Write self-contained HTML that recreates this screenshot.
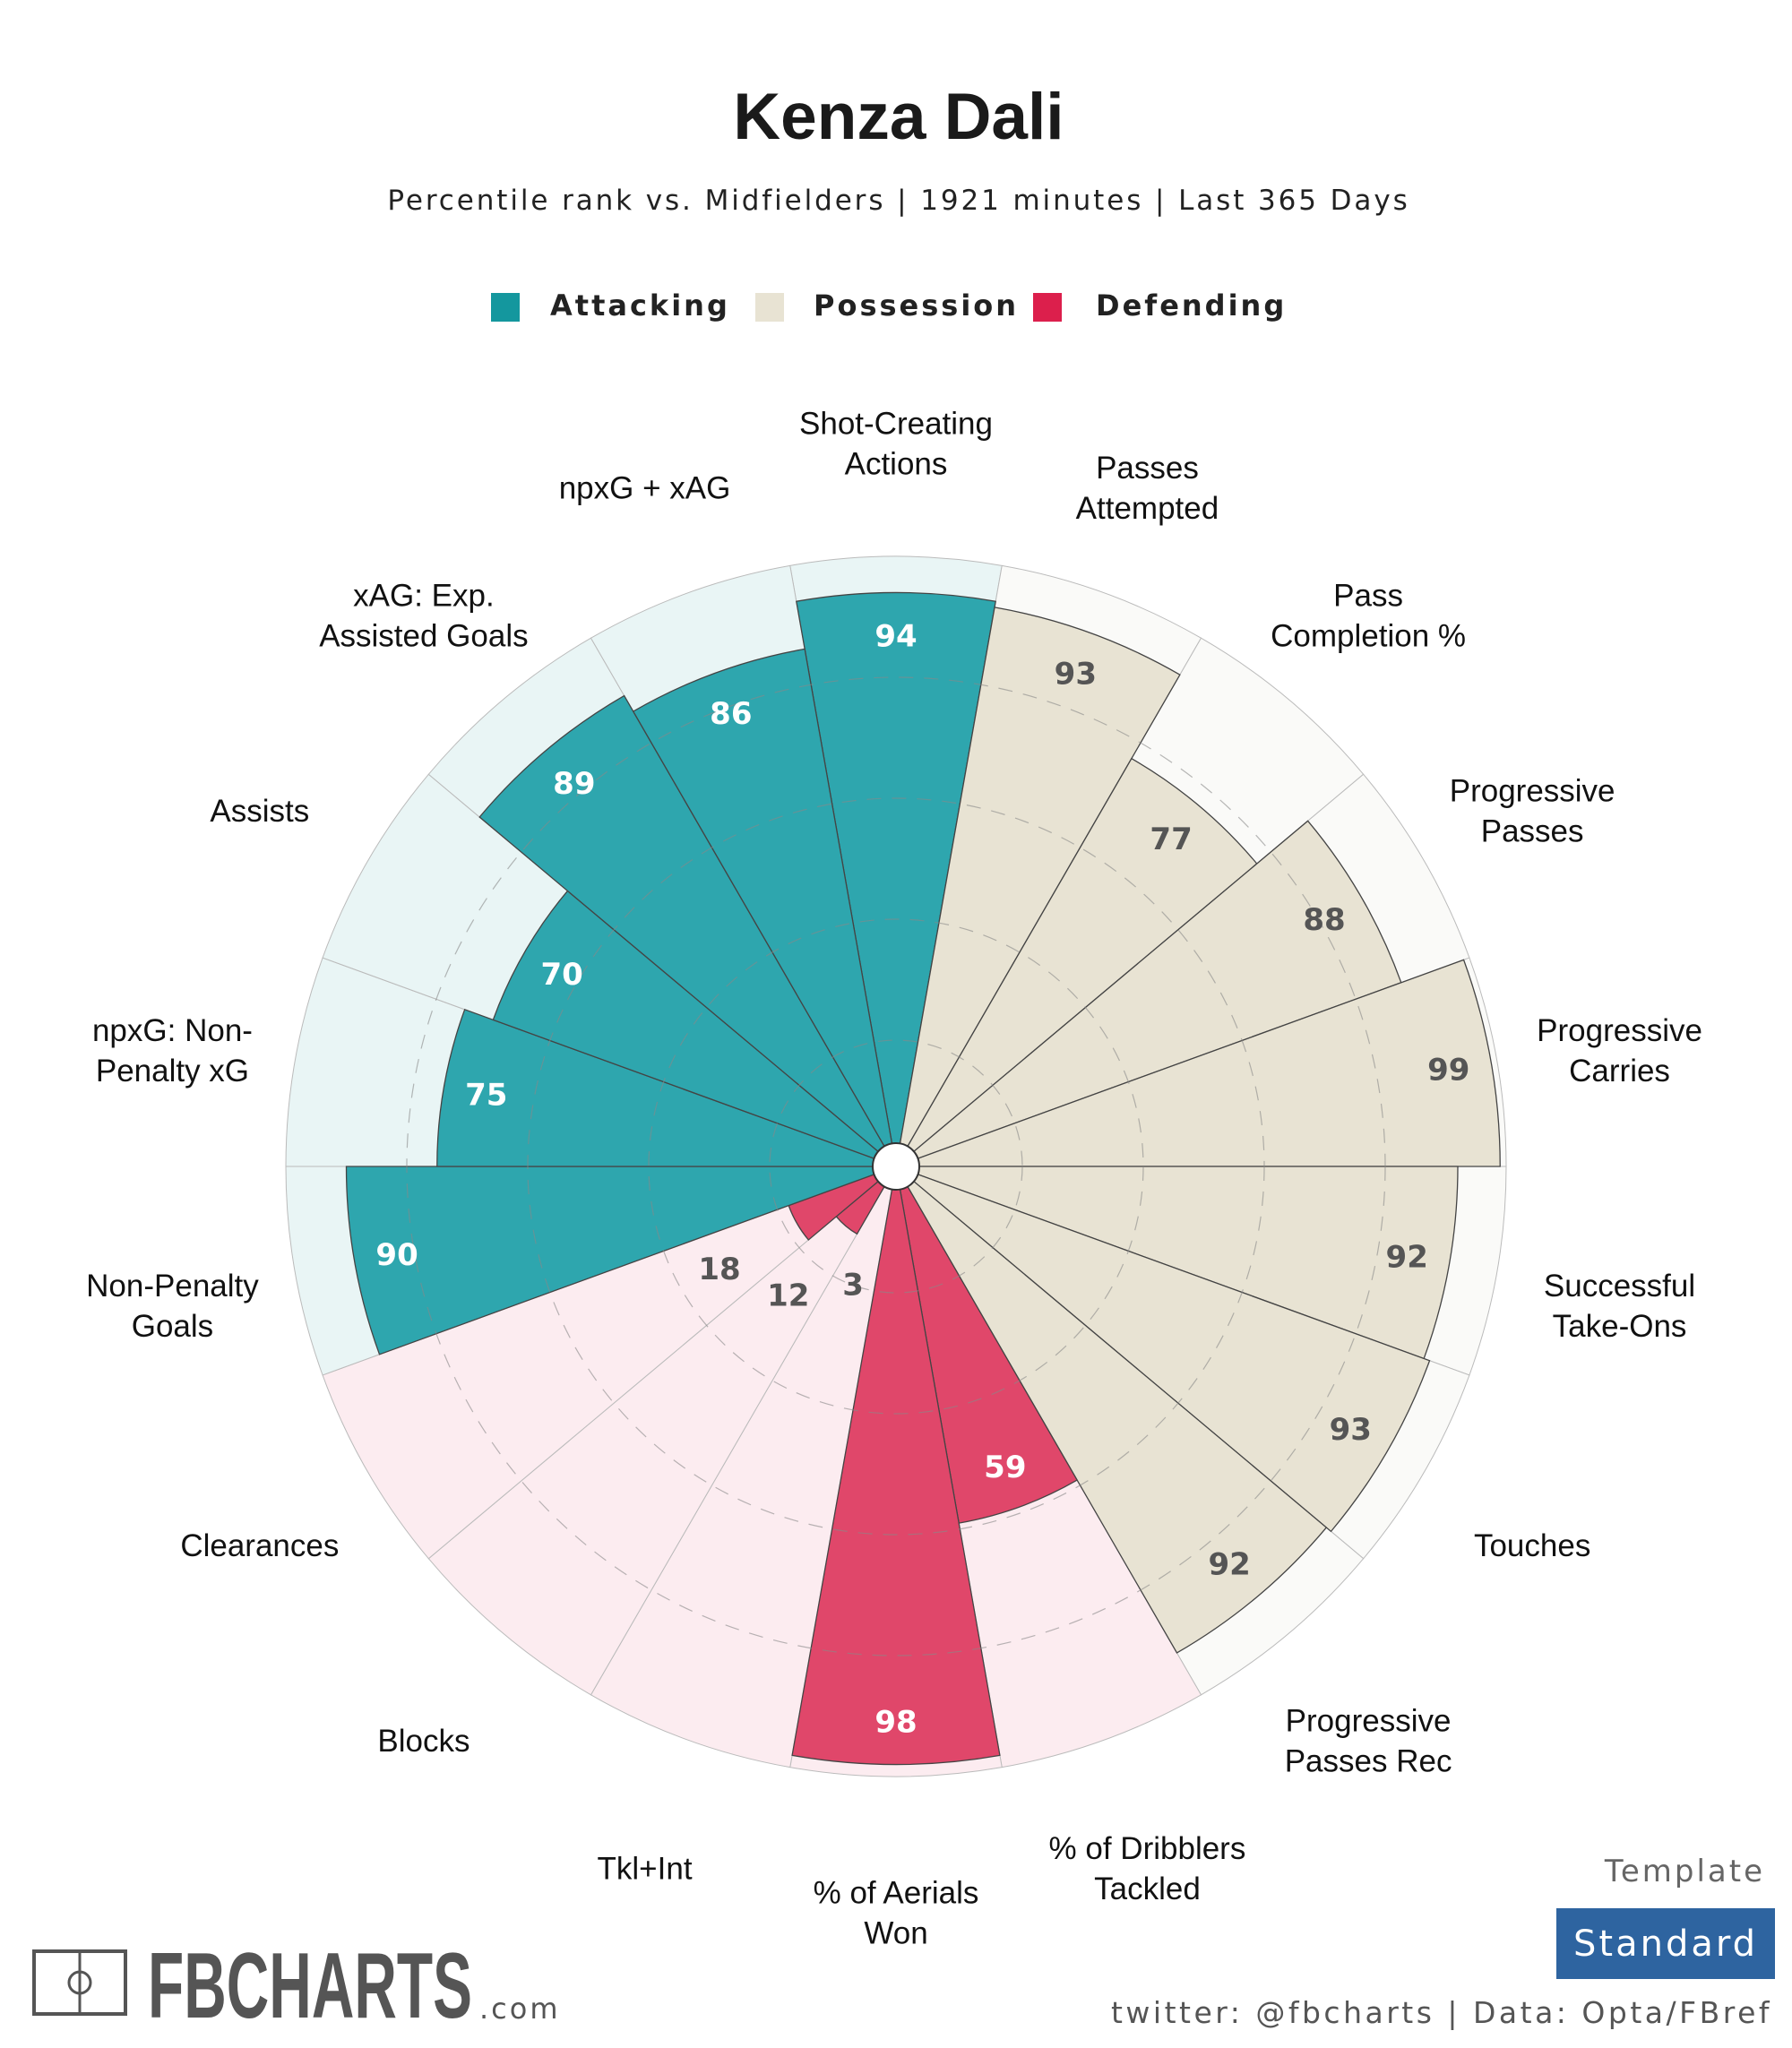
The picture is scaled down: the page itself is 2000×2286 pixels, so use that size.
<!DOCTYPE html>
<html><head><meta charset="utf-8">
<style>
html,body{margin:0;padding:0;background:#fff;}
svg{display:block;}
</style></head>
<body>
<svg id="chart" width="2000" height="2286" viewBox="0 0 2000 2286" xmlns="http://www.w3.org/2000/svg">
<rect width="2000" height="2286" fill="#fff"/>
<text x="1003" y="155" text-anchor="middle" font-family="Liberation Sans, sans-serif" font-weight="bold" font-size="73" fill="#1a1a1a">Kenza Dali</text>
<text x="1003" y="234" text-anchor="middle" font-family="DejaVu Sans, sans-serif" font-size="31" letter-spacing="2.9" fill="#222">Percentile rank vs. Midfielders | 1921 minutes | Last 365 Days</text>
<g font-family="DejaVu Sans, sans-serif" font-weight="bold" font-size="32" letter-spacing="3" fill="#222">
<rect x="548" y="327" width="32" height="32" fill="#14979e"/>
<text x="614" y="352">Attacking</text>
<rect x="843" y="327" width="32" height="32" fill="#e8e3d3"/>
<text x="908" y="352">Possession</text>
<rect x="1153" y="327" width="32" height="32" fill="#dc1f4c"/>
<text x="1223" y="352">Defending</text>
</g>
<g id="pizza"></g>
<g>
<rect x="38" y="2178" width="102" height="70" fill="none" stroke="#555" stroke-width="4"/>
<line x1="89" y1="2178" x2="89" y2="2248" stroke="#555" stroke-width="3"/>
<circle cx="89" cy="2213" r="12" fill="none" stroke="#555" stroke-width="3"/>
<text x="165" y="2252" font-family="Liberation Sans Narrow, Liberation Sans, sans-serif" font-weight="bold" font-size="104" fill="#555" textLength="362" lengthAdjust="spacingAndGlyphs">FBCHARTS</text>
<text x="535" y="2253" font-family="DejaVu Sans, sans-serif" font-size="32" letter-spacing="3" fill="#555">.com</text>
</g>
<text x="1970" y="2100" text-anchor="end" font-family="DejaVu Sans, sans-serif" font-size="34" letter-spacing="3" fill="#666">Template</text>
<rect x="1737" y="2130" width="244" height="79" fill="#2e64a0"/>
<text x="1859" y="2183" text-anchor="middle" font-family="DejaVu Sans, sans-serif" font-size="40" letter-spacing="3" fill="#fff">Standard</text>
<text x="1978" y="2258" text-anchor="end" font-family="DejaVu Sans, sans-serif" font-size="33" letter-spacing="3.5" fill="#555">twitter: @fbcharts | Data: Opta/FBref</text>
</svg>
<script>
const categories = ["Shot-Creating\nActions","Passes\nAttempted","Pass\nCompletion %","Progressive\nPasses","Progressive\nCarries","Successful\nTake-Ons","Touches","Progressive\nPasses Rec","% of Dribblers\nTackled","% of Aerials\nWon","Tkl+Int","Blocks","Clearances","Non-Penalty\nGoals","npxG: Non-\nPenalty xG","Assists","xAG: Exp.\nAssisted Goals","npxG + xAG"];
const values = [94,93,77,88,99,92,93,92,59,98,3,12,18,90,75,70,89,86];
const groups = ["att","pos","pos","pos","pos","pos","pos","pos","def","def","def","def","def","att","att","att","att","att"];
const gridTicks = [20,40,60,80];

const CX=1000, CY=1302, R=681, R0=6;
const fillColor={att:"#2ea6ae",pos:"#e8e3d3",def:"#e0476a"};
const bgColor={att:"#e9f5f5",pos:"#fafaf8",def:"#fcecf0"};
const txtColor={att:"#fff",pos:"#555",def:"#fff"};
const NS="http://www.w3.org/2000/svg";
const g=document.getElementById("pizza");
function rScale(v){return R0+(R-R0)*v/100;}
function pt(r,deg){const a=deg*Math.PI/180;return [CX+r*Math.sin(a),CY-r*Math.cos(a)];}
function wedge(r,a0,a1){const p0=pt(r,a0),p1=pt(r,a1);return `M${CX},${CY} L${p0[0]},${p0[1]} A${r},${r} 0 0 1 ${p1[0]},${p1[1]} Z`;}
const n=categories.length, step=360/n;
categories.forEach((c,i)=>{
  const a0=i*step-step/2,a1=a0+step;
  const p=document.createElementNS(NS,"path");
  p.setAttribute("d",wedge(R,a0,a1));
  p.setAttribute("fill",bgColor[groups[i]]);
  p.setAttribute("stroke","#bbb");p.setAttribute("stroke-width","1");
  
  
  g.appendChild(p);
});
categories.forEach((c,i)=>{
  const a0=i*step-step/2,a1=a0+step;
  const p=document.createElementNS(NS,"path");
  p.setAttribute("d",wedge(rScale(values[i]),a0,a1));
  p.setAttribute("fill",fillColor[groups[i]]);
  p.setAttribute("stroke","#444");p.setAttribute("stroke-width","1.3");
  
  
  g.appendChild(p);
});
gridTicks.forEach(t=>{
  const c=document.createElementNS(NS,"circle");
  c.setAttribute("cx",CX);c.setAttribute("cy",CY);c.setAttribute("r",rScale(t));
  c.setAttribute("fill","none");c.setAttribute("stroke","#888");c.setAttribute("stroke-width","1.2");
  c.setAttribute("stroke-dasharray","16 12");c.setAttribute("opacity","0.6");
  
  
  g.appendChild(c);
});
const hole=document.createElementNS(NS,"circle");
hole.setAttribute("cx",CX);hole.setAttribute("cy",CY);hole.setAttribute("r",26);
hole.setAttribute("fill","#fff");hole.setAttribute("stroke","#333");hole.setAttribute("stroke-width","2");


g.appendChild(hole);
categories.forEach((c,i)=>{
  const ang=i*step;
  const rb=rScale(values[i]);
  const small=values[i]<30;
  const rl=small?Math.max(rb+100,140):rb-48;
  const p=pt(rl,ang);
  const t=document.createElementNS(NS,"text");
  t.setAttribute("x",p[0]);t.setAttribute("y",p[1]+12);
  t.setAttribute("text-anchor","middle");
  t.setAttribute("font-family","DejaVu Sans, sans-serif");
  t.setAttribute("font-weight","bold");t.setAttribute("font-size","34");
  t.setAttribute("fill",small?"#555":txtColor[groups[i]]);
  t.textContent=values[i];
  
  
  g.appendChild(t);
  const lines=c.split("\n");
  const lp=pt(820,ang);
  const lt=document.createElementNS(NS,"text");
  lt.setAttribute("text-anchor","middle");
  lt.setAttribute("font-family","Liberation Sans, sans-serif");
  lt.setAttribute("font-size","35");lt.setAttribute("fill","#111");
  
  
  const lh=45, y0=lp[1]-(lines.length-1)*lh/2+25;
  lines.forEach((s,k)=>{
    const ts=document.createElementNS(NS,"tspan");
    ts.setAttribute("x",lp[0]);ts.setAttribute("y",y0+k*lh);
    ts.textContent=s;lt.appendChild(ts);
  });
  g.appendChild(lt);
});
</script>
</body></html>
